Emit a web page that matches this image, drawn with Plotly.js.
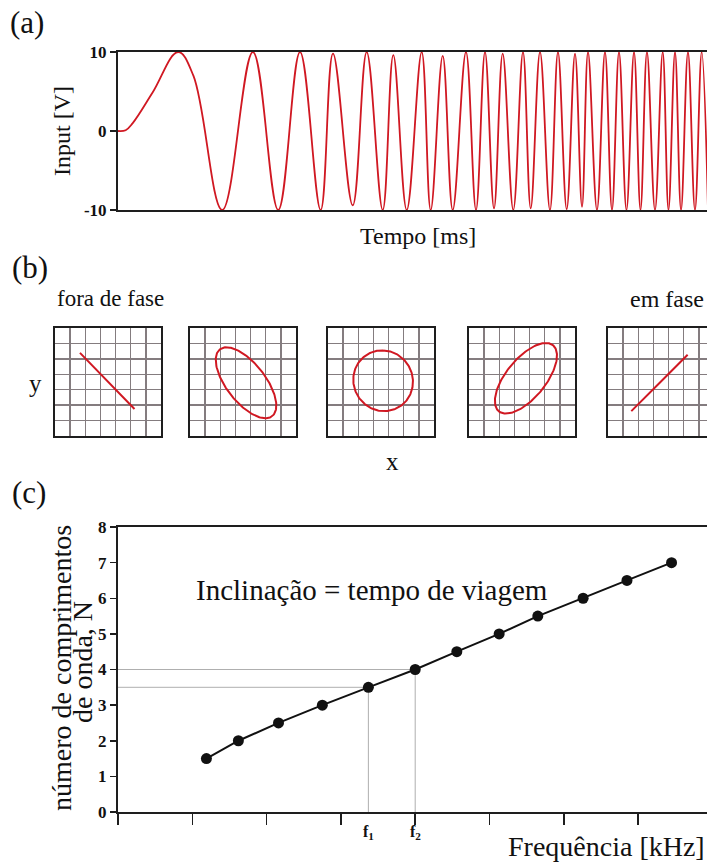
<!DOCTYPE html>
<html>
<head>
<meta charset="utf-8">
<script src="https://cdn.plot.ly/plotly-3.0.1.min.js"></script>
<style>
  html, body { margin: 0; padding: 0; background: #fff; }
  #chart { width: 707px; height: 863px; }
</style>
</head>
<body>
<div id="chart"></div>
<script>
// ---- (a) swept-frequency input signal: turning points of the sweep ----
const chirpTime = [0, 1.3, 2.5, 5.9, 10.2, 12.8, 17.7, 22.9, 27.2, 30.9, 34.4, 36.5,
  39.85, 42.22, 44.94, 46.74, 49.02, 51.56, 53.09, 55.13, 56.83, 59.08,
  60.78, 62.31, 63.84, 65.31, 67.11, 68.76, 70.07, 71.65, 73.34, 74.70,
  76.18, 77.59, 78.78, 79.80, 81.32, 82.68, 83.87, 85.06, 86.33, 87.61,
  88.71, 89.81, 91.17, 92.48, 93.46, 94.57, 95.59, 96.77, 97.96, 99.10, 100.17];
const chirpVolt = [0, 0.1, 1.0, 4.9, 10, 7.0, -10, 10, -10, 10, -10, 9.8,
  -9.4, 10, -10, 9.6, -10, 10, -10, 9.5, -10, 10,
  -10, 10, -9.8, 9.8, -10, 10, -9.8, 10, -10, 10,
  -9.9, 9.8, -9.6, 10, -10, 10, -10, 10, -10, 10,
  -10, 10, -10, 10, -10, 10, -10, 10, -10, 10, -10];
const yTicksA = [-10, 0, 10];

// ---- (b) Lissajous figures: phase between x and y, amplitude and centre (grid cells) ----
const lissPhaseDeg = [180, 130, 92, 50, 0];
const lissAmpX = [1.80, 2.00, 1.97, 2.05, 1.86];
const lissAmpY = [1.82, 2.30, 1.97, 2.29, 1.83];
const lissCx = [3.45, 3.70, 3.64, 3.76, 3.40];
const lissCy = [3.57, 3.45, 3.58, 3.74, 3.44];

// ---- (c) number of wavelengths versus frequency ----
const freqKHz = [1.19, 1.62, 2.16, 2.75, 3.37, 4.0, 4.56, 5.13, 5.65, 6.26, 6.85, 7.45];
const nWaves  = [1.5, 2.0, 2.5, 3.0, 3.5, 4.0, 4.5, 5.0, 5.5, 6.0, 6.5, 7.0];
const freqTicks = [0, 1, 2, 3, 4, 5, 6, 7];
const nTicks = [0, 1, 2, 3, 4, 5, 6, 7, 8];
const f1Index = 4, f2Index = 5;

// ---- page geometry helpers (pixel -> paper) ----
const W = 707, H = 863;
const px = v => v / W;
const py = v => 1 - v / H;
const SERIF = 'Liberation Serif, Times New Roman, serif';
const RED = 'rgb(208,24,34)';
const FRAME = '#1e1e1e';
const GRID = 'rgb(132,124,127)';

const traces = [];

// (a) input signal
traces.push({
  x: chirpTime, y: chirpVolt, xaxis: 'x', yaxis: 'y',
  type: 'scatter', mode: 'lines',
  line: { color: RED, width: 1.8, shape: 'spline', smoothing: 1.1 },
  hoverinfo: 'skip'
});

// (b) one Lissajous curve per oscilloscope screen
const nStep = 180;
for (let k = 0; k < lissPhaseDeg.length; k++) {
  const phi = lissPhaseDeg[k] * Math.PI / 180;
  const xs = [], ys = [];
  for (let i = 0; i <= nStep; i++) {
    const t = 2 * Math.PI * i / nStep;
    xs.push(lissCx[k] + lissAmpX[k] * Math.sin(t));
    ys.push(lissCy[k] + lissAmpY[k] * Math.sin(t + phi));
  }
  traces.push({
    x: xs, y: ys, xaxis: 'x' + (k + 2), yaxis: 'y' + (k + 2),
    type: 'scatter', mode: 'lines',
    line: { color: RED, width: 2 }, hoverinfo: 'skip'
  });
}

// (c) measured points and fitted line
traces.push({
  x: freqKHz, y: nWaves, xaxis: 'x7', yaxis: 'y7',
  type: 'scatter', mode: 'lines+markers',
  line: { color: '#111', width: 2 },
  marker: { color: '#111', size: 11 },
  hoverinfo: 'skip'
});

const tickFont = { family: SERIF, size: 17, color: '#111', weight: 'bold' };

const layout = {
  width: W, height: H,
  margin: { l: 0, r: 0, t: 0, b: 0 },
  paper_bgcolor: '#fff', plot_bgcolor: 'rgba(0,0,0,0)',
  showlegend: false,
  font: { family: SERIF, color: '#111' },
  xaxis: {
    domain: [px(118), 1], range: [0, 100],
    showline: true, mirror: true, linecolor: FRAME, linewidth: 2,
    showgrid: false, zeroline: false, showticklabels: false, ticks: '',
    anchor: 'y'
  },
  yaxis: {
    domain: [py(210), py(52)], range: [-10, 10],
    showline: true, mirror: false, linecolor: FRAME, linewidth: 2,
    showgrid: false, zeroline: false,
    tickmode: 'array', tickvals: yTicksA, ticktext: yTicksA.map(String),
    ticks: 'outside', ticklen: 6, tickwidth: 1.5, tickcolor: FRAME,
    tickfont: tickFont, anchor: 'x'
  },
  xaxis7: {
    domain: [px(118), 1], range: [0, 589 / 74.3],
    showline: true, mirror: true, linecolor: FRAME, linewidth: 2,
    showgrid: false, zeroline: false, showticklabels: false,
    tickmode: 'array', tickvals: freqTicks,
    ticks: 'outside', ticklen: 11, tickwidth: 1.5, tickcolor: FRAME,
    anchor: 'y7'
  },
  yaxis7: {
    domain: [py(812), py(527)], range: [0, 8],
    showline: true, mirror: false, linecolor: FRAME, linewidth: 2,
    showgrid: false, zeroline: false,
    tickmode: 'array', tickvals: nTicks, ticktext: nTicks.map(String),
    ticks: 'outside', ticklen: 6, tickwidth: 1.5, tickcolor: FRAME,
    tickfont: tickFont, anchor: 'x7'
  },
  shapes: [],
  annotations: []
};

// (b) oscilloscope screens: 7 x 7 grid each, the last one runs off the page edge
const boxLeft = [55, 190, 328, 469, 608];
const boxWidth = 106;
for (let k = 0; k < 5; k++) {
  const x0 = boxLeft[k];
  const x1 = Math.min(x0 + boxWidth, W);
  const cut = x1 - x0 < boxWidth;
  const xr = 7 * (x1 - x0) / boxWidth;
  layout['xaxis' + (k + 2)] = {
    domain: [px(x0), px(x1)], range: [0, xr], anchor: 'y' + (k + 2),
    showline: true, mirror: true, linecolor: FRAME, linewidth: 2.4,
    showgrid: true, gridcolor: GRID, gridwidth: 1.5, dtick: 1, tick0: 0,
    zeroline: false, showticklabels: false, ticks: ''
  };
  layout['yaxis' + (k + 2)] = {
    domain: [py(436), py(328)], range: [0, 7], anchor: 'x' + (k + 2),
    showline: true, mirror: !cut, linecolor: FRAME, linewidth: 2.4,
    showgrid: true, gridcolor: GRID, gridwidth: 1.5, dtick: 1, tick0: 0,
    zeroline: false, showticklabels: false, ticks: ''
  };
}

// (c) guide lines reading f1 and f2 off the curve
const guide = { color: 'rgb(175,175,175)', width: 1 };
[f1Index, f2Index].forEach(i => {
  layout.shapes.push({ type: 'line', xref: 'x7', yref: 'y7', layer: 'below',
    x0: 0, x1: freqKHz[i], y0: nWaves[i], y1: nWaves[i], line: guide });
  layout.shapes.push({ type: 'line', xref: 'x7', yref: 'y7', layer: 'below',
    x0: freqKHz[i], x1: freqKHz[i], y0: 0, y1: nWaves[i], line: guide });
});

function note(text, x, y, size, opts) {
  layout.annotations.push(Object.assign({
    text: text, xref: 'paper', yref: 'paper', x: px(x), y: py(y),
    xanchor: 'center', yanchor: 'middle', showarrow: false,
    font: { family: SERIF, size: size, color: '#111' }
  }, opts || {}));
}

// panel letters
note('(a)', 8, 22, 31, { xanchor: 'left' });
note('(b)', 10, 267, 31, { xanchor: 'left' });
note('(c)', 10, 492, 31, { xanchor: 'left' });

// (a) axis titles
note('Input [V]', 62, 131, 24, { textangle: -90 });
note('Tempo [ms]', 418, 236, 24);

// (b) labels
note('fora de fase', 55, 299, 23, { xanchor: 'left' });
note('em fase', 706, 299, 24, { xanchor: 'right' });
note('y', 35, 384, 25);
note('x', 392, 461, 25);

// (c) labels
note('Inclinação = tempo de viagem', 372, 590, 29);
note('número de comprimentos', 61, 668, 28, { textangle: -90 });
note('de onda, N', 82, 662, 28, { textangle: -90 });
note('Frequência [kHz]', 707, 846, 28, { xanchor: 'right' });

[[f1Index, 'f<sub>1</sub>'], [f2Index, 'f<sub>2</sub>']].forEach(([i, label]) => {
  layout.annotations.push({
    text: label, xref: 'x7', yref: 'paper', x: freqKHz[i], y: py(832),
    xanchor: 'center', yanchor: 'middle', showarrow: false,
    font: { family: SERIF, size: 16, color: '#111', weight: 'bold' }
  });
});

Plotly.newPlot('chart', traces, layout, { staticPlot: true, displayModeBar: false });
</script>
</body>
</html>
